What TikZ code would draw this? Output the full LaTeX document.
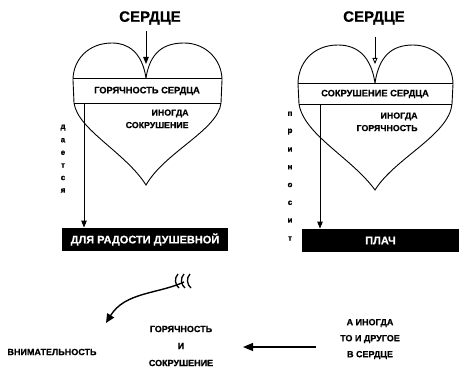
\documentclass[tikz,border=0pt]{standalone}
\usepackage{fontspec}
\setmainfont{Liberation Sans}[BoldFeatures={FakeBold=0.6}]
\usetikzlibrary{arrows.meta}
\begin{document}
\begin{tikzpicture}[x=1pt,y=-1pt,
  line width=0.9pt,
  every node/.style={font=\bfseries, inner sep=0pt},
  title/.style={font=\bfseries\fontsize{15}{15}\selectfont},
  band/.style={font=\bfseries\fontsize{9.3}{10}\selectfont},
  inner/.style={font=\bfseries\fontsize{8.8}{12.5}\selectfont, align=right, anchor=north east},
  lbl/.style={font=\bfseries\fontsize{9}{11}\selectfont, align=center},
  vlet/.style={font=\bfseries\fontsize{8}{8}\selectfont},
  blackbox/.style={fill=black, text=white, font=\bfseries\fontsize{11}{11}\selectfont},
  arr/.style={-{Triangle[length=7pt,width=5.5pt]}}
]
\useasboundingbox (0,0) rectangle (469,369);

% ---------- left heart ----------
\draw (146,78) .. controls (142,52) and (128,43) .. (112,43)
  .. controls (88,43) and (73,60) .. (73,80)
  -- (74,103) .. controls (78,130) and (125,152) .. (146,185)
  .. controls (165,152) and (218,130) .. (221,103)
  -- (222,80) .. controls (222,60) and (206,43) .. (184,43)
  .. controls (164,43) and (150,52) .. (146,78);
\draw (73,78) -- (222,78) (74,103) -- (221,103);
\node[title] (s1) at (150,18) {СЕРДЦЕ};
\coordinate (s1a) at (146,31);
\coordinate (c1) at (146,64);
\draw[arr] (s1a) -- (c1);
\node[band] (b1) at (147,91) {ГОРЯЧНОСТЬ СЕРДЦА};
\node[inner] (i1) at (189,109) {ИНОГДА\\СОКРУШЕНИЕ};
\node[blackbox, minimum width=166pt, minimum height=23pt] (box1) at (145,239.5) {ДЛЯ РАДОСТИ ДУШЕВНОЙ};
\coordinate (d1) at (84,103);
\draw[arr] (d1) -- (d1 |- box1.north);
\foreach \l [count=\i] in {д,а,е,т,с,я}
  \node[vlet] (v1\i) at (63,115+12.6*\i) {\l};

% ---------- right heart ----------
\draw (375,83) .. controls (371,56) and (357,45) .. (338,45)
  .. controls (312,45) and (298,64) .. (298,84)
  -- (299,104) .. controls (304,135) and (352,158) .. (375,190)
  .. controls (395,158) and (449,135) .. (452,104)
  -- (453,84) .. controls (453,64) and (436,45) .. (413,45)
  .. controls (392,45) and (379,56) .. (375,83);
\draw (298,83) -- (453,83) (299,104) -- (452,104);
\node[title] (s2) at (374,18) {СЕРДЦЕ};
\coordinate (s2a) at (375,37);
\coordinate (c2) at (375,64);
\draw[-{Triangle[open,length=6pt,width=5pt]}] (s2a) -- (c2);
\node[band] (b2) at (375,94) {СОКРУШЕНИЕ СЕРДЦА};
\node[inner] (i2) at (418,112) {ИНОГДА\\ГОРЯЧНОСТЬ};
\node[blackbox, minimum width=157pt, minimum height=23pt] (box2) at (380.5,240.5) {ПЛАЧ};
\coordinate (d2) at (320,104);
\draw[arr] (d2) -- (d2 |- box2.north);
\foreach \l [count=\i] in {п,р,и,н,о,с,и,т}
  \node[vlet] (v2\i) at (290,96+17.8*\i) {\l};

% ---------- bottom ----------
\node[lbl] (vn) at (52,352) {ВНИМАТЕЛЬНОСТЬ};
\node[lbl] (gs) at (181,346) {ГОРЯЧНОСТЬ\\[6pt]И\\[6pt]СОКРУШЕНИЕ};
\node[lbl] (ai) at (370,339) {А ИНОГДА\\[5pt]ТО И ДРУГОЕ\\[5pt]В СЕРДЦЕ};
\coordinate (ta) at (316,347);
\coordinate (th) at (243,347);
\draw[-{Triangle[length=10pt,width=8pt]}, line width=1.2pt] (ta) -- (th);
\coordinate (tail) at (184,282);
\coordinate (tip) at (106,323);
\draw[-{Triangle[length=9pt,width=8pt]}, line width=1.4pt] (tail) .. controls (158,294) and (125,292) .. (tip);
\foreach \dx in {0,6,12}
  \draw[line width=1.3pt] (178+\dx,274) .. controls (174+\dx,278) and (175+\dx,285) .. (179+\dx,288);
\end{tikzpicture}
\end{document}
